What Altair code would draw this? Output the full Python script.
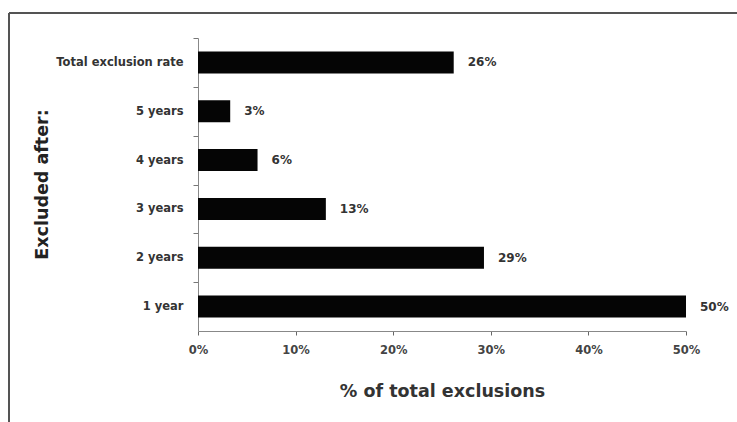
import altair as alt
import pandas as pd

categories = ["Total exclusion rate", "5 years", "4 years", "3 years", "2 years", "1 year"]
values = [0.262, 0.033, 0.061, 0.131, 0.293, 0.500]
labels = ["26%", "3%", "6%", "13%", "29%", "50%"]
x_ticks = [0, 0.1, 0.2, 0.3, 0.4, 0.5]

df = pd.DataFrame({"cat": categories, "val": values, "lab": labels})

FONT = "DejaVu Sans"
STEP = 293 / (6 - 0.55 + 2 * 0.275)

y_enc = alt.Y("cat:N", sort=categories, scale=alt.Scale(paddingInner=0.55, paddingOuter=0.275),
              axis=alt.Axis(title="Excluded after:", titleFontSize=17.5, titleFont=FONT,
                            titleFontWeight="bold", titleColor="#222",
                            titleAngle=-90, titleX=-156, titleY=146,
                            titleAlign="center", titleBaseline="middle",
                            labelFont=FONT, labelFontSize=11.5, labelFontWeight="bold",
                            labelColor="#333", labelPadding=10,
                            tickOffset=-STEP / 2, labelOffset=STEP / 2,
                            tickSize=5, tickColor="#777",
                            domainColor="#888", labelLimit=300))

bars = alt.Chart(df).mark_bar(color="#050505").encode(
    x=alt.X("val:Q", scale=alt.Scale(domain=[0, 0.5]),
            axis=alt.Axis(title="% of total exclusions", titleFontSize=17.5, titleFont=FONT,
                          titleFontWeight="bold", titleColor="#333", titlePadding=27,
                          values=x_ticks, format=".0%", grid=False, labelFlush=False,
                          labelFont=FONT, labelFontSize=11.5, labelFontWeight="bold",
                          labelColor="#444", labelPadding=9,
                          tickSize=4, tickColor="#666", domainColor="#888")),
    y=y_enc,
)

text = alt.Chart(df).mark_text(align="left", baseline="middle", dx=14, font=FONT,
                               fontSize=12, fontWeight="bold", color="#333").encode(
    x="val:Q", y=alt.Y("cat:N", sort=categories), text="lab:N")

top_line = alt.Chart(df).mark_rule(color="#555", strokeWidth=1.5).encode(
    x=alt.value(-189), x2=alt.value(560), y=alt.value(-25))
left_line = alt.Chart(df).mark_rule(color="#555", strokeWidth=1.5).encode(
    x=alt.value(-189), y=alt.value(-25), y2=alt.value(400))

chart = alt.layer(bars, text, top_line, left_line).properties(
    width=488, height=293, background="white",
    autosize=alt.AutoSizeParams(type="none"),
    padding={"left": 198, "top": 38, "right": 51, "bottom": 91},
).configure_view(strokeWidth=0, clip=False)

chart.save("out.html", embed_options={"renderer": "svg", "actions": False})
